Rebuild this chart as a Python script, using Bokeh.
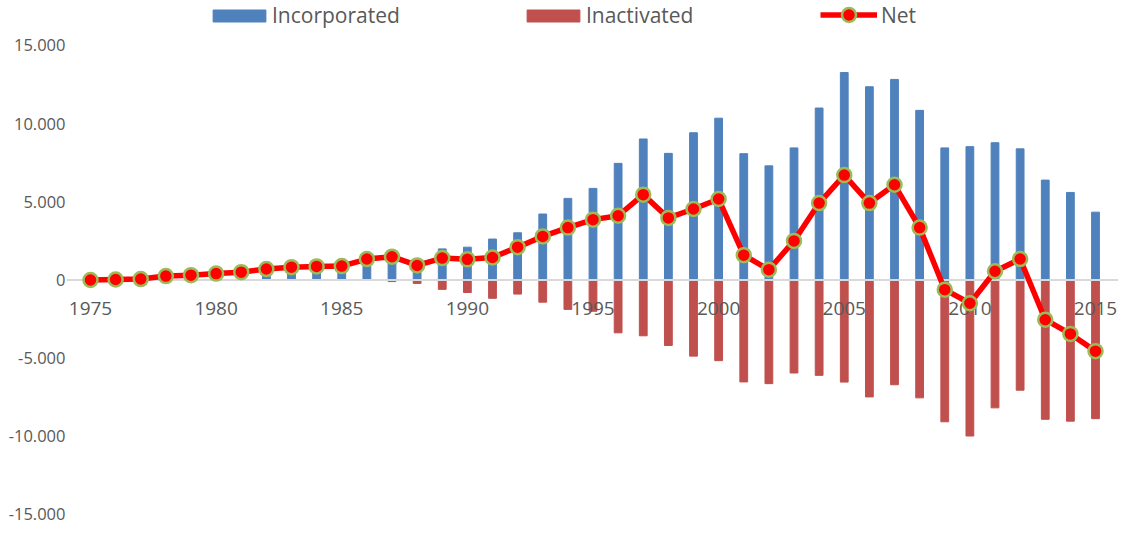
from bokeh.plotting import figure
from bokeh.models import (FixedTicker, CustomJSTickFormatter, Range1d, ColumnDataSource,
                          Legend, LegendItem, LabelSet, Span)
from bokeh.core.properties import value
from bokeh.embed import file_html
from bokeh.resources import INLINE

years = list(range(1975, 2016))
incorporated = [30, 40, 80, 260, 330, 420, 520, 730, 840, 890,
                920, 1360, 1620, 1170, 1990, 2100, 2620, 3020, 4220, 5220,
                5860, 7460, 9020, 8100, 9420, 10350, 8080, 7300, 8450, 11000,
                13270, 12360, 12830, 10850, 8450, 8530, 8780, 8390, 6390, 5600,
                4340]
inactivated = [0, 0, 0, 0, 0, 0, 0, 0, 0, 0,
               0, 0, 100, 220, 600, 800, 1170, 900, 1420, 1880,
               2000, 3380, 3570, 4190, 4870, 5160, 6520, 6630, 5950, 6100,
               6530, 7480, 6700, 7540, 9070, 9980, 8180, 7050, 8910, 9030,
               8870]
net = [0, 30, 60, 250, 310, 410, 500, 700, 820, 870,
       890, 1340, 1490, 930, 1400, 1320, 1440, 2100, 2790, 3350,
       3860, 4110, 5460, 3970, 4540, 5180, 1590, 660, 2500, 4920,
       6710, 4920, 6090, 3350, -620, -1490, 560, 1340, -2540, -3450,
       -4550]
x_ticks = [1975, 1980, 1985, 1990, 1995, 2000, 2005, 2010, 2015]
x_tick_labels = [str(t) for t in x_ticks]
y_ticks = [-15000, -10000, -5000, 0, 5000, 10000, 15000]

src = ColumnDataSource(dict(
    year=years,
    inc=incorporated,
    inact=[-v for v in inactivated],
    net=net,
))
tick_src = ColumnDataSource(dict(x=x_ticks, y=[0] * len(x_ticks), text=x_tick_labels))

GREY = "#595959"
FONT = "Open Sans"

p = figure(width=1118, height=525, output_backend="svg", toolbar_location=None,
           x_range=Range1d(1974.045, 2015.915), y_range=Range1d(-15704, 17878),
           x_axis_location=None,
           min_border_left=66, min_border_right=0, min_border_top=0, min_border_bottom=0)
p.outline_line_color = None
p.grid.visible = False

r_inc = p.vbar(x="year", top="inc", bottom=0, width=0.31, source=src,
               fill_color="#4F81BD", line_color="#4F81BD")
r_inact = p.vbar(x="year", top=0, bottom="inact", width=0.31, source=src,
                 fill_color="#C0504D", line_color="#C0504D")

zero = Span(location=0, dimension="width", line_color="#D9D9D9", line_width=2)
p.add_layout(zero)

p.add_layout(LabelSet(x="x", y="y", text="text", source=tick_src,
                      text_align="center", text_baseline="alphabetic", y_offset=-35,
                      text_font=value(FONT), text_font_size=value("19px"),
                      text_color=GREY))

ln = p.line(x="year", y="net", source=src, line_color="#FF0000", line_width=5.5)
sc = p.scatter(x="year", y="net", source=src, size=14, fill_color="#FF0000",
               line_color="#9BBB59", line_width=2.5)
ln.level = "overlay"
sc.level = "overlay"

# y axis
yax = p.yaxis[0]
yax.ticker = FixedTicker(ticks=y_ticks)
yax.formatter = CustomJSTickFormatter(code="""
const s = Math.abs(tick).toFixed(0).replace(/\\B(?=(\\d{3})+(?!\\d))/g, '.');
return (tick < 0 ? '-' : '') + s;
""")
yax.axis_line_color = None
yax.major_tick_line_color = None
yax.minor_tick_line_color = None
yax.major_tick_out = 0
yax.major_tick_in = 0
yax.major_label_text_font = FONT
yax.major_label_text_font_size = "16.5px"
yax.major_label_text_color = GREY
yax.major_label_standoff = 1

def style_legend(leg):
    leg.orientation = "horizontal"
    leg.padding = 0
    leg.margin = 0
    leg.border_line_color = None
    leg.background_fill_alpha = 0
    leg.label_text_font = FONT
    leg.label_text_font_size = "21px"
    leg.label_text_color = GREY

leg_bars = Legend(items=[LegendItem(label="Incorporated", renderers=[r_inc]),
                         LegendItem(label="Inactivated", renderers=[r_inact])],
                  location=(140, 496), glyph_width=66, glyph_height=15,
                  label_standoff=0, spacing=120)
style_legend(leg_bars)
leg_net = Legend(items=[LegendItem(label="Net", renderers=[ln, sc])],
                 location=(754, 493), glyph_width=57, glyph_height=35,
                 label_standoff=4)
style_legend(leg_net)
p.add_layout(leg_bars)
p.add_layout(leg_net)

open("out.html", "w").write(file_html(p, INLINE))
